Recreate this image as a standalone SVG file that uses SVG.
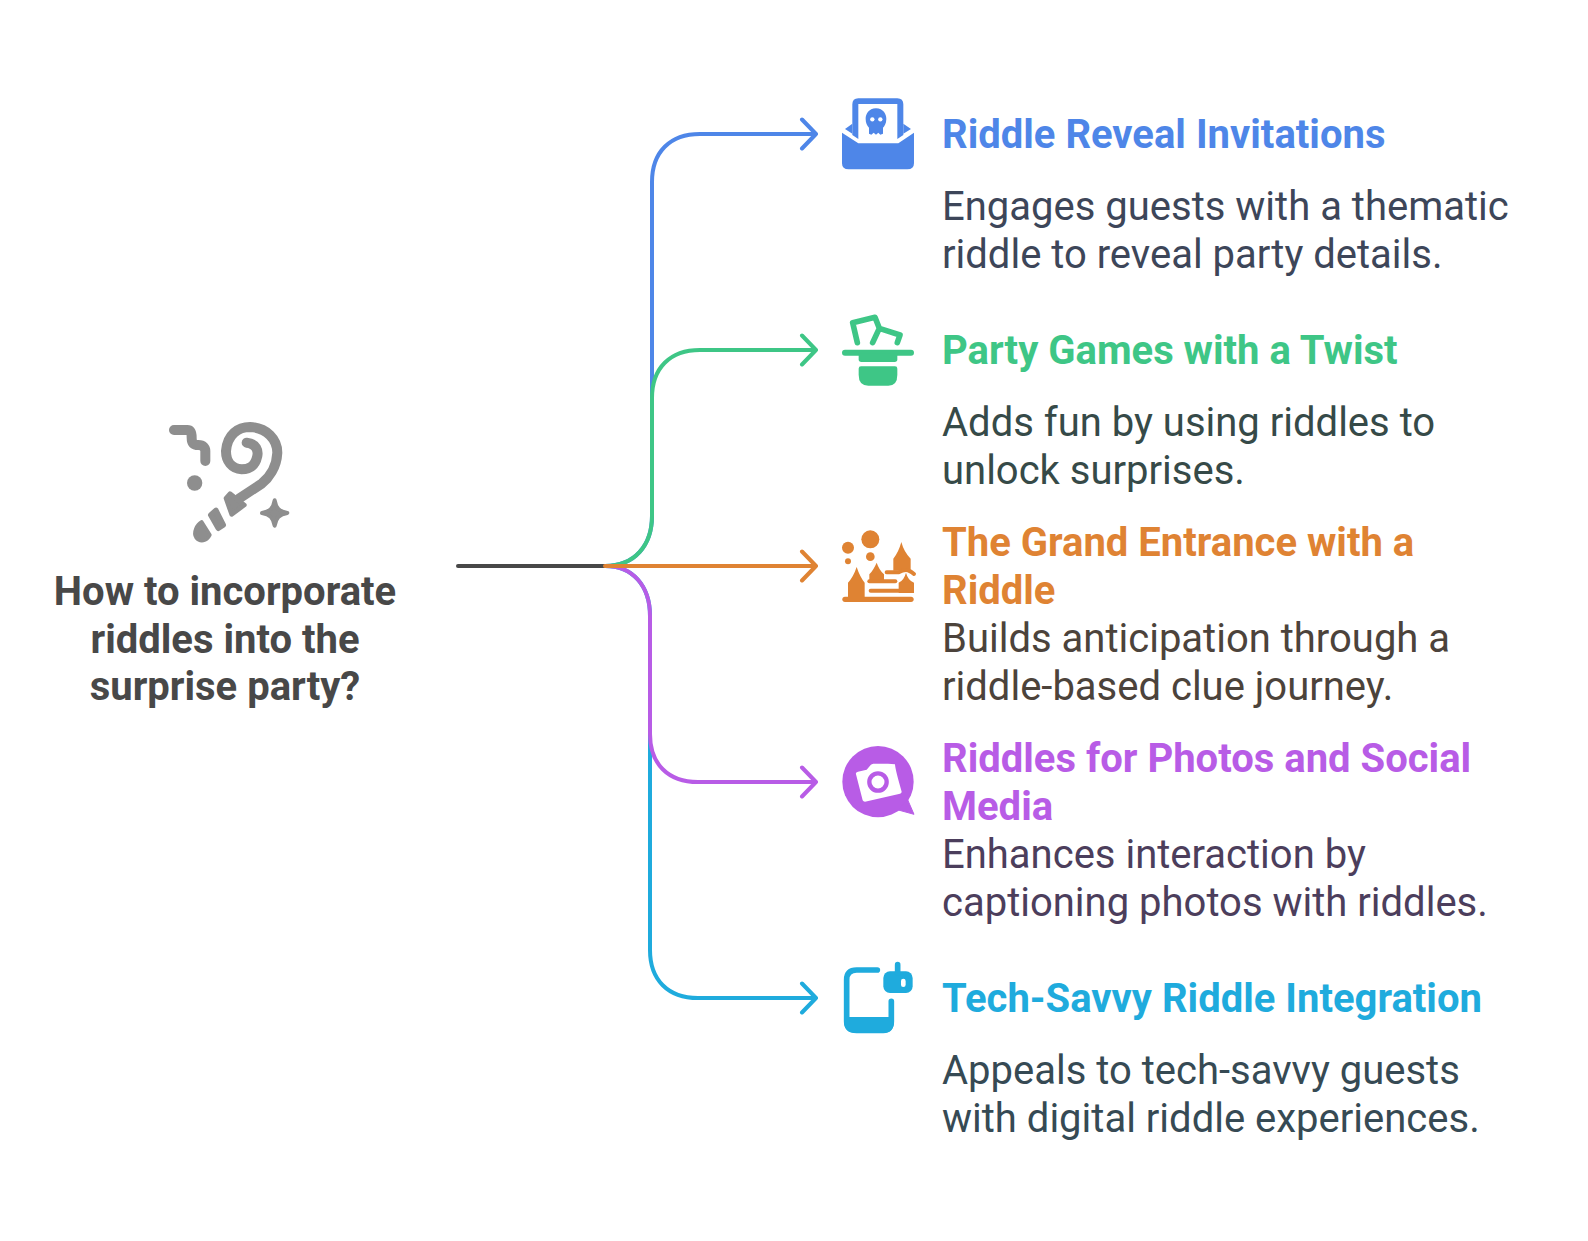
<svg xmlns="http://www.w3.org/2000/svg" width="1588" height="1241" viewBox="0 0 1588 1241">
<style>
text{font-family:Roboto,"Liberation Sans",sans-serif;font-size:40px}
.t{font-weight:700}
.m{font-weight:700;fill:#484848;text-anchor:middle}
.c{fill:none;stroke-width:4;stroke-linecap:round;stroke-linejoin:round}
</style>
<rect width="1588" height="1241" fill="#fff"/>
<g id="connectors">
<path class="c" stroke="#4e86e8" d="M605 566C635 566 652 545 652 516V182C652 152 670 134 700 134H816M802 119.500L816 134L802 148.500"/>
<path class="c" stroke="#1fabdd" d="M605 566C633 566 650 586 650 616V950C650 980 668 998 698 998H816M802 983.500L816 998L802 1012.500"/>
<path class="c" stroke="#3ec686" d="M605 566C635 566 652 545 652 516V398C652 368 670 350 700 350H816M802 335.500L816 350L802 364.500"/>
<path class="c" stroke="#b85ce6" d="M605 566C633 566 650 586 650 616V734C650 764 668 782 698 782H816M802 767.500L816 782L802 796.500"/>
<path class="c" stroke="#484848" d="M458 566H605"/>
<path class="c" stroke="#df8333" d="M605 566H816M802 551.500L816 566L802 580.500"/>
</g>
<g id="root">
<g transform="translate(150 401) scale(.3333)" fill="#8e8e8e">
<path d="M290 125C320 128 325 150 322 165C315 198 295 205 275 205C245 203 228 180 228 150C232 100 265 78 300 78C350 80 382 115 382 155C380 200 355 232 335 248L268 292" fill="none" stroke="#8e8e8e" stroke-width="30" stroke-linecap="round"/>
<path d="M228 292L240 278L283 312L245 340Z" stroke="#8e8e8e" stroke-width="14" stroke-linejoin="round"/>
<path d="M182 342L198 328L220 372L205 382Z" stroke="#8e8e8e" stroke-width="16" stroke-linejoin="round"/>
<path d="M155 362L180 402C170 422 150 425 138 410C128 395 140 370 155 362Z" stroke="#8e8e8e" stroke-width="10" stroke-linejoin="round"/>
<path d="M72 87H112C125 87 125 100 125 110C125 125 130 132 145 132C160 132 166 140 166 150V180" fill="none" stroke="#8e8e8e" stroke-width="30" stroke-linecap="round" stroke-linejoin="round"/>
<circle cx="134" cy="246" r="23"/>
<path d="M374 298C378 322 388 332 412 336C388 340 378 350 374 374C370 350 360 340 336 336C360 332 370 322 374 298Z" stroke="#8e8e8e" stroke-width="12" stroke-linejoin="round"/>
</g>
<text class="m" x="225" y="604.800">How to incorporate</text>
<text class="m" x="225" y="652.800">riddles into the</text>
<text class="m" x="225" y="700.400">surprise party?</text>
</g>
<g id="node1">
<g transform="translate(820 85) scale(.3333)" fill="#4e86e8">
<path d="M66 143L115 175H235L282 143V235Q282 253 262 253H86Q66 253 66 235Z"/>
<path d="M97 150V58Q97 40 115 40H232Q250 40 250 58V150L232 162V57H115V162Z"/>
<path d="M97 116L75 132L97 146ZM250 116L273 132L250 146Z"/>
<path d="M168 70C190 70 199 88 199 102C199 116 193 124 189 128V146L181 149L175 143L168 149L161 143L154 149L147 146V128C141 122 137 114 137 102C137 88 146 70 168 70Z"/>
<circle cx="157" cy="103" r="6.5" fill="#fff"/><circle cx="181" cy="103" r="6.5" fill="#fff"/>
</g>
<text class="t" x="942" y="148.400" fill="#4e86e8">Riddle Reveal Invitations</text>
<text x="942" y="220.400" fill="#3d4659">Engages guests with a thematic</text>
<text x="942" y="268.400" fill="#3d4659">riddle to reveal party details.</text>
</g>
<g id="node2">
<g transform="translate(820 300) scale(.3333)" fill="#3ec686">
<path d="M75 158H273" stroke="#3ec686" stroke-width="18" stroke-linecap="round"/>
<path d="M116 160H232V178Q232 186 224 186H124Q116 186 116 178Z"/>
<path d="M116 206Q116 199 123 199H225Q232 199 232 206V225Q232 257 205 257H145Q116 257 116 225Z"/>
<path d="M112 128L98 68L165 52L178 85M158 128L178 85L240 105L232 128" fill="none" stroke="#3ec686" stroke-width="17" stroke-linecap="round" stroke-linejoin="round"/>
</g>
<text class="t" x="942" y="364.400" fill="#3ec686">Party Games with a Twist</text>
<text x="942" y="436.400" fill="#364a48">Adds fun by using riddles to</text>
<text x="942" y="484.400" fill="#364a48">unlock surprises.</text>
</g>
<g id="node3">
<g transform="translate(820 512) scale(.3333)" fill="#df8333">
<circle cx="151" cy="82" r="27"/><circle cx="84" cy="107" r="18"/><circle cx="151" cy="134" r="13"/><circle cx="84" cy="148" r="9"/>
<path d="M75 262H273" stroke="#df8333" stroke-width="16" stroke-linecap="round"/>
<path d="M110 165Q120 195 134 212V258H84V212Q100 195 110 165Z"/>
<path d="M170 152Q178 175 192 187V208H148V187Q160 175 170 152Z"/>
<path d="M148 208H226" stroke="#df8333" stroke-width="12" stroke-linecap="round"/>
<path d="M244 90Q252 120 272 140V172Q262 168 250 176H220V140Q236 120 244 90Z"/>
<path d="M200 181H236Q248 174 258 174Q268 174 282 186" fill="none" stroke="#df8333" stroke-width="12" stroke-linecap="round"/>
<path d="M258 182Q264 205 282 212V243H236V212Q252 205 258 182Z"/>
<path d="M152 236H270" stroke="#df8333" stroke-width="12" stroke-linecap="round"/>
</g>
<text class="t" x="942" y="556.400" fill="#df8333">The Grand Entrance with a</text>
<text class="t" x="942" y="604.400" fill="#df8333">Riddle</text>
<text x="942" y="652.400" fill="#4c433b">Builds anticipation through a</text>
<text x="942" y="700.400" fill="#4c433b">riddle-based clue journey.</text>
</g>
<g id="node4">
<g transform="translate(820 725) scale(.3333)" fill="#b85ce6">
<circle cx="174" cy="170" r="107"/>
<path d="M262 222L282 268L235 255Z" stroke="#b85ce6" stroke-width="3" stroke-linejoin="round"/>
<path d="M108 148Q106 142 114 140L140 134L152 120Q155 117 160 116L204 116L225 118Q226 135 245 200Q245 205 240 206L135 230Q130 230 128 226Z" fill="#fff"/>
<circle cx="174" cy="171" r="26" fill="#fff" stroke="#b85ce6" stroke-width="13"/>
</g>
<text class="t" x="942" y="772.400" fill="#b85ce6">Riddles for Photos and Social</text>
<text class="t" x="942" y="820.400" fill="#b85ce6">Media</text>
<text x="942" y="868.400" fill="#4c3e5c">Enhances interaction by</text>
<text x="942" y="916.400" fill="#4c3e5c">captioning photos with riddles.</text>
</g>
<g id="node5">
<g transform="translate(820 938) scale(.3333)" fill="#1fabdd">
<path d="M172 96H110Q80 96 80 125V250Q80 277 110 277H190Q214 277 214 250V190" fill="none" stroke="#1fabdd" stroke-width="17" stroke-linecap="round"/>
<path d="M72 237H222V250Q222 285 190 285H105Q72 285 72 250Z"/>
<rect x="190" y="100" width="88" height="65" rx="20"/>
<path d="M233 80V105" stroke="#1fabdd" stroke-width="17" stroke-linecap="round"/>
<rect x="243" y="122" width="14" height="25" rx="7" fill="#fff"/>
</g>
<text class="t" x="942" y="1012.400" fill="#1fabdd">Tech-Savvy Riddle Integration</text>
<text x="942" y="1084.400" fill="#364a54">Appeals to tech-savvy guests</text>
<text x="942" y="1132.400" fill="#364a54">with digital riddle experiences.</text>
</g>
</svg>
